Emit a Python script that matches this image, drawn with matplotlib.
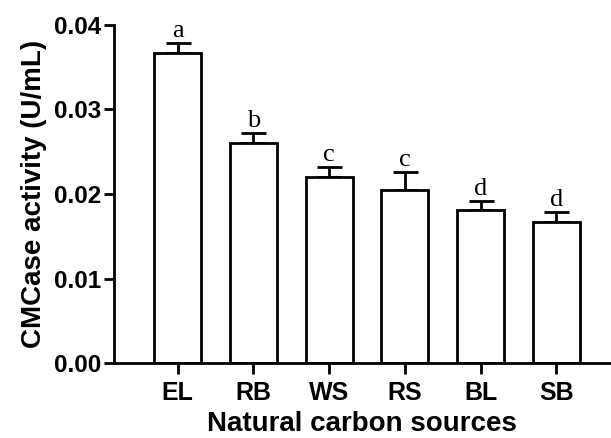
import matplotlib
matplotlib.use("Agg")
import matplotlib.pyplot as plt
import numpy as np

sources = ['EL', 'RB', 'WS', 'RS', 'BL', 'SB']
activity = [0.0367, 0.0260, 0.0220, 0.0205, 0.0181, 0.0167]
sd = [0.0012, 0.0012, 0.0012, 0.0021, 0.0011, 0.0012]
letters = ['a', 'b', 'c', 'c', 'd', 'd']

plt.rcParams['font.family'] = ['Liberation Sans', 'DejaVu Sans']

fig = plt.figure(figsize=(6.11, 4.38), dpi=100)
ax = fig.add_axes([0.1866, 0.171, 0.811, 0.772])

x = np.arange(len(sources))
linewidth = 2.0
ax.bar(x, activity, width=0.62, color='white', edgecolor='black', linewidth=linewidth, zorder=2)
ax.errorbar(x, activity, yerr=[np.zeros(len(sd)), sd], fmt='none', ecolor='black',
            elinewidth=linewidth, capsize=9, capthick=linewidth, zorder=1)

# significance letters above the error bars
for xi, v, s, lab in zip(x, activity, sd, letters):
    ax.text(xi, v + s + 0.0001, lab, ha='center', va='bottom',
            family='Liberation Serif', fontsize=19)

ax.set_xlim(-0.84, 5.7)
ax.set_ylim(0, 0.04)
ax.set_yticks([0.00, 0.01, 0.02, 0.03, 0.04])
ax.set_yticklabels(['0.00', '0.01', '0.02', '0.03', '0.04'])
ax.set_xticks(x)
ax.set_xticklabels(sources)

# Remove the top and right spines
ax.spines['top'].set_visible(False)
ax.spines['right'].set_visible(False)
ax.spines['bottom'].set_linewidth(linewidth)
ax.spines['left'].set_linewidth(linewidth)

ax.tick_params(axis='y', direction='out', width=linewidth, length=7, labelsize=17.5, pad=2)
ax.tick_params(axis='x', direction='out', width=linewidth, length=8, labelsize=18, pad=5)
for lbl in ax.get_xticklabels() + ax.get_yticklabels():
    lbl.set_fontweight('bold')

ax.set_xlabel('Natural carbon sources', fontsize=20, fontweight='bold', labelpad=4)
ax.set_ylabel('CMCase activity (U/mL)', fontsize=20, fontweight='bold', labelpad=5)

plt.savefig('out.png', dpi=100)
